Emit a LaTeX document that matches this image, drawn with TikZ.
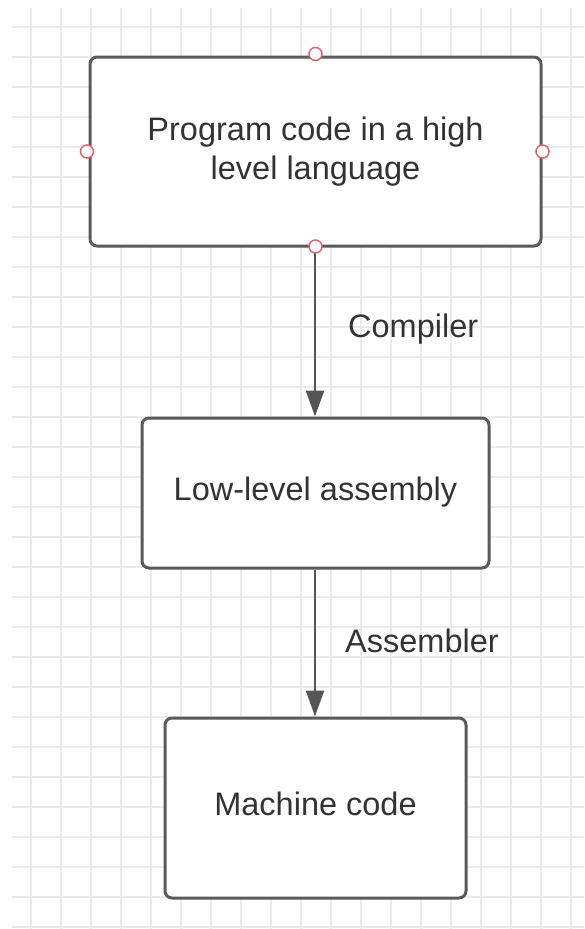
\documentclass[tikz,border=0pt]{standalone}
\usepackage{fontspec}
\setmainfont{Liberation Sans}
\usetikzlibrary{arrows.meta}
\definecolor{gridcol}{HTML}{EBEBEB}
\definecolor{boxline}{HTML}{5A5A5A}
\definecolor{arrowcol}{HTML}{555555}
\definecolor{txtcol}{HTML}{333333}
\definecolor{handlecol}{HTML}{E0606E}
\tikzset{
  stagebox/.style={draw=boxline, line width=3pt, fill=white, rounded corners=7pt,
    inner sep=0pt, align=center, text=txtcol,
    font=\fontsize{32.5}{39.5}\selectfont},
  onelinebox/.style={stagebox, text height=23pt, text depth=8pt},
  flowarrow/.style={draw=arrowcol, line width=2.5pt,
    -{Triangle[length=26pt, width=18pt]}},
  steplabel/.style={anchor=base west, inner sep=0pt, text=txtcol,
    font=\fontsize{32.5}{35}\selectfont},
  handle/.style={circle, draw=handlecol, line width=1.5pt, fill=white,
    minimum size=13pt, inner sep=0pt},
  gridline/.style={draw=gridcol, line width=1.5pt}
}
\begin{document}
\begin{tikzpicture}[x=1pt, y=-1pt]
  \useasboundingbox (0,0) rectangle (584,929);
  \fill[white] (0,0) rectangle (584,929);

  % background grid, 30pt pitch
  \foreach \gx in {31,61,...,571} \draw[gridline] (\gx,8) -- (\gx,929);
  \foreach \gy in {27,57,...,927} \draw[gridline] (12,\gy) -- (584,\gy);

  % stages of the translation
  \node[stagebox, minimum width=451pt, minimum height=189pt] (prog) at (315.5,151.5)
    {Program code in a high\\level language};
  \node[onelinebox, minimum width=347pt, minimum height=150pt] (asm) at (315.5,493)
    {Low-level assembly};
  \node[onelinebox, minimum width=301pt, minimum height=180pt] (mach) at (315.5,808)
    {Machine code};

  % translation steps
  \draw[flowarrow] ([xshift=-0.5pt]prog.south) -- ([xshift=-0.5pt]asm.north);
  \draw[flowarrow] ([xshift=-0.5pt]asm.south) -- ([xshift=-0.5pt]mach.north);
  \node[steplabel] (compiler) at (348,337) {Compiler};
  \node[steplabel] (assembler) at (345,652) {Assembler};

  % selection handles on the first box
  \node[handle] (hn) at ([yshift=1.5pt]prog.north) {};
  \node[handle] (hs) at ([yshift=1pt]prog.south) {};
  \node[handle] (hw) at ([xshift=-1.5pt]prog.west) {};
  \node[handle] (he) at (prog.east) {};
\end{tikzpicture}
\end{document}
